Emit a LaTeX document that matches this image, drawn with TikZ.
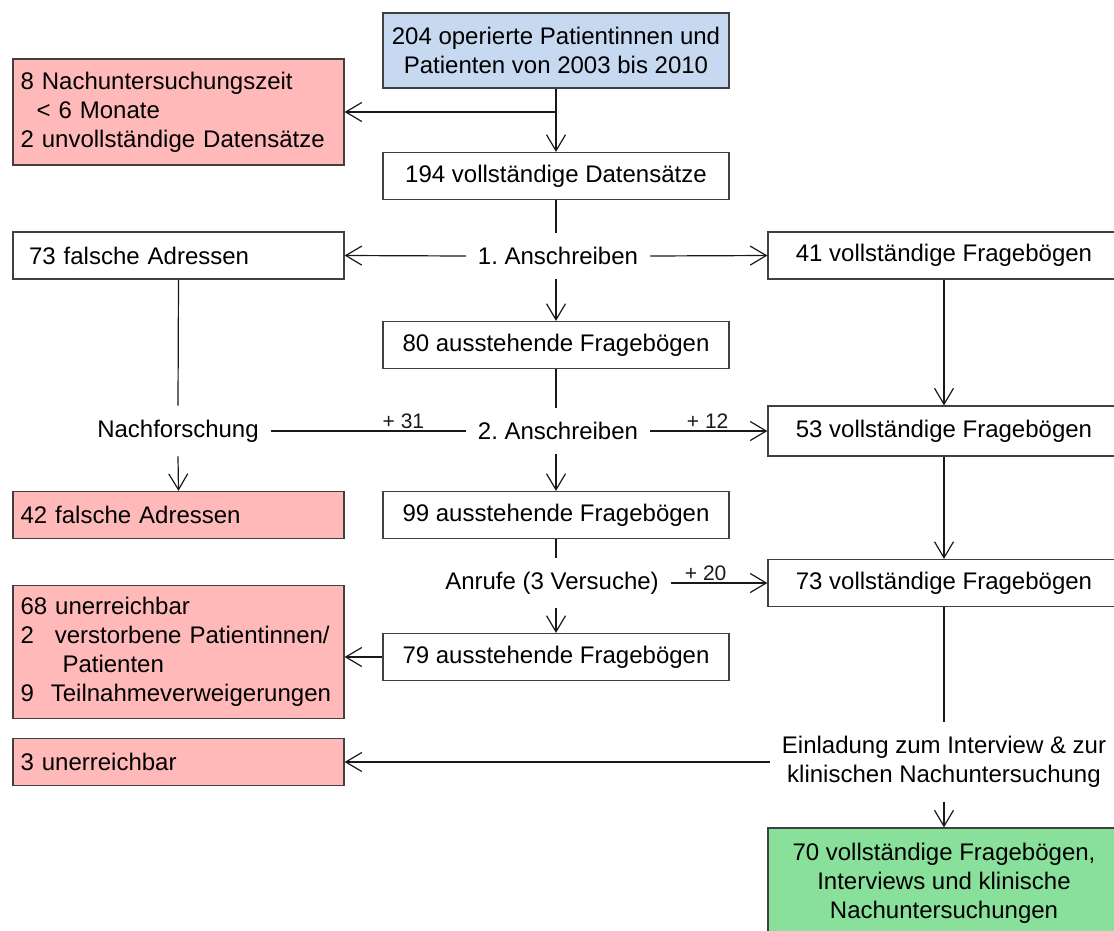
\documentclass[tikz,border=0pt]{standalone}
\usepackage{fontspec}
\setmainfont{Liberation Sans}
\frenchspacing
\usetikzlibrary{arrows.meta, positioning}
\definecolor{patblue}{RGB}{198,217,241}
\definecolor{lossred}{RGB}{255,185,185}
\definecolor{donegreen}{RGB}{137,224,154}
\tikzset{>={Straight Barb[length=16pt,width=19pt]}}

\begin{document}
\begin{tikzpicture}[x=1pt, y=-1pt]
\tikzset{
  box/.style={draw=black!75, line width=1.2pt, inner sep=0pt, font=\fontsize{24}{29}\selectfont},
  midbox/.style={box, minimum width=346pt, minimum height=47pt, align=center},
  sidebox/.style={box, minimum width=331pt, minimum height=47pt, align=left, text width=299pt},
  rightbox/.style={box, minimum width=352pt, minimum height=47pt, align=center},
  lossbox/.style={sidebox, fill=lossred, text width=316pt},
  step text/.style={inner xsep=12pt, inner ysep=14pt, font=\fontsize{24}{29}\selectfont, align=center},
  gain/.style={above, inner sep=2pt, font=\fontsize{21}{24}\selectfont},
  flow/.style={line width=1.2pt, black!90}
}
\useasboundingbox (0,0) rectangle (1114,930);
\clip (0,0) rectangle (1114,930);

\node[midbox, fill=patblue, minimum height=75pt] (pat) at (556,50.5) {204 operierte Patientinnen und\\Patienten von 2003 bis 2010};
\node[lossbox, minimum height=106pt] (excl1) at (178.5,112) {8 Nachuntersuchungszeit\\\hspace{16pt}< 6 Monate\\2 unvollständige Datensätze};
\node[midbox] (ds194) at (556,176) {194 vollständige Datensätze};

\node[step text] (ans1) at (558,256) {1. Anschreiben};
\node[sidebox] (adr73) at (178.5,255.5) {73 falsche Adressen};
\node[rightbox] (fb41) at (944,255.5) {41 vollständige Fragebögen};
\node[midbox] (aus80) at (556,345) {80 ausstehende Fragebögen};

\node[step text] (nachf) at (178,431) {Nachforschung};
\node[step text] (ans2) at (558,431) {2. Anschreiben};
\node[rightbox, minimum height=50pt] (fb53) at (944,431) {53 vollständige Fragebögen};

\node[lossbox] (adr42) at (178.5,515) {42 falsche Adressen};
\node[midbox] (aus99) at (556,515) {99 ausstehende Fragebögen};

\node[step text] (anruf) at (552,583) {Anrufe (3 Versuche)};
\node[rightbox] (fb73) at (944,583) {73 vollständige Fragebögen};
\node[midbox] (aus79) at (556,657) {79 ausstehende Fragebögen};
\node[lossbox, minimum height=133pt] (excl3) at (178.5,652) {68 unerreichbar\\2\hspace{21pt}verstorbene Patientinnen/\\\hspace{42pt}Patienten\\9\hspace{17pt}Teilnahmeverweigerungen};

\node[lossbox] (excl4) at (178.5,762) {3 unerreichbar};
\node[step text] (einl) at (944,762) {Einladung zum Interview \& zur\\klinischen Nachuntersuchung};
\node[rightbox, fill=donegreen, minimum height=110pt] (final) at (944,883) {70 vollständige Fragebögen,\\Interviews und klinische\\Nachuntersuchungen};

\coordinate (split1) at (pat.south |- excl1.east);

\draw[flow, ->] (pat.south) -- (ds194.north);
\draw[flow, ->] (split1) -- (excl1.east);
\draw[flow] (ds194.south) -- (ds194.south |- ans1.north);
\draw[flow, ->] (ans1.west) -- (adr73.east);
\draw[flow, ->] (ans1.east) -- (fb41.west);
\draw[flow, ->] (ans1.south -| aus80.north) -- (aus80.north);
\draw[flow] (aus80.south) -- (aus80.south |- ans2.north);
\draw[flow] (adr73.south) -- (nachf.north);
\draw[flow] (nachf.east) -- node[gain, pos=0.68] {+ 31} (ans2.west);
\draw[flow, ->] (nachf.south) -- (adr42.north);
\draw[flow, ->] (ans2.east) -- node[gain, pos=0.49] {+ 12} (fb53.west);
\draw[flow, ->] (fb41.south) -- (fb53.north);
\draw[flow, ->] (ans2.south -| aus99.north) -- (aus99.north);
\draw[flow] (aus99.south) -- (aus99.south |- anruf.north);
\draw[flow, ->] (anruf.east) -- node[gain, pos=0.36] {+ 20} (fb73.west);
\draw[flow, ->] (fb53.south) -- (fb73.north);
\draw[flow, ->] (anruf.south -| aus79.north) -- (aus79.north);
\draw[flow, ->] (aus79.west) -- (aus79.west -| excl3.east);
\draw[flow] (fb73.south) -- (einl.north);
\draw[flow, ->] (einl.west) -- (einl.west -| excl4.east);
\draw[flow, ->] (einl.south) -- (final.north);
\end{tikzpicture}
\end{document}
